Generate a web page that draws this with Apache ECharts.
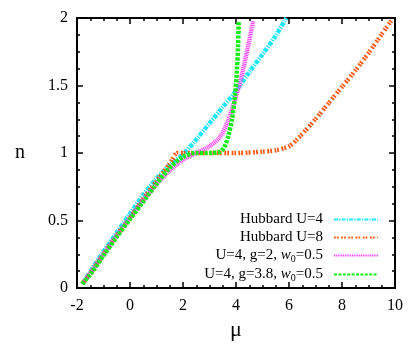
<!DOCTYPE html>
<html>
<head>
<meta charset="utf-8">
<script src="https://cdn.jsdelivr.net/npm/echarts@6/dist/echarts.min.js"></script>
<style>
  html, body { margin: 0; padding: 0; background: #fff; }
  #chart { width: 415px; height: 346px; }
</style>
</head>
<body>
<div id="chart"></div>
<script>
const seriesNames = ['Hubbard U=4', 'Hubbard U=8', 'U=4, g=2, w0=0.5', 'U=4, g=3.8, w0=0.5']

const muU4 = [-1.8, -1.5, -1, -0.5, 0, 0.5, 1, 1.5, 2, 2.5, 3, 3.5, 4, 4.5, 5, 5.5, 5.9]
const nU4 = [0.03, 0.12, 0.27, 0.41, 0.55, 0.69, 0.81, 0.91, 0.99, 1.1, 1.22, 1.34, 1.46, 1.6, 1.73, 1.87, 2.0]

const muU8 = [-1.8, -1.5, -1, -0.5, 0, 0.5, 1, 1.5, 1.8, 2, 3, 4, 5, 5.5, 6, 6.3, 7, 7.5, 8, 8.5, 9, 9.5, 9.9]
const nU8 = [0.03, 0.11, 0.25, 0.39, 0.52, 0.66, 0.79, 0.92, 1.0, 1.0, 1.0, 1.0, 1.01, 1.02, 1.05, 1.1, 1.25, 1.37, 1.49, 1.61, 1.74, 1.88, 1.99]

const muG2 = [-1.8, -1.5, -1, -0.5, 0, 0.5, 1, 1.5, 2, 2.5, 3, 3.4, 3.7, 4, 4.2, 4.4, 4.55, 4.65]
const nG2 = [0.03, 0.11, 0.25, 0.39, 0.52, 0.65, 0.77, 0.87, 0.95, 1.0, 1.05, 1.12, 1.24, 1.42, 1.56, 1.74, 1.88, 1.98]

const muG38 = [-1.8, -1.5, -1, -0.5, 0, 0.5, 1, 1.5, 2, 2.5, 3, 3.4, 3.55, 3.7, 3.85, 3.95, 4.03, 4.08, 4.1]
const nG38 = [0.03, 0.1, 0.24, 0.38, 0.51, 0.64, 0.77, 0.89, 0.97, 1.0, 1.0, 1.01, 1.04, 1.12, 1.25, 1.4, 1.6, 1.8, 1.98]

const xTicks = [-2, 10, 2]
const yTicks = [0, 2, 0.5]

const serif = 'Liberation Serif'

const pairs = (xs, ys) => xs.map((x, i) => [x, ys[i]])

const lineDefs = [
  { data: pairs(muU4, nU4), color: '#1ee8ff', dash: [4, 1.2, 1.2, 1.2] },
  { data: pairs(muU8, nU8), color: '#ff5a14', dash: [1.8, 1, 1.8, 2.6] },
  { data: pairs(muG2, nG2), color: '#ff33ff', dash: [1, 0.8] },
  { data: pairs(muG38, nG38), color: '#11ee11', dash: [3, 1.4] }
]

const tickLabel = {
  color: '#000',
  formatter: (v) => '{t|' + v + '}',
  rich: { t: { fontFamily: serif, fontSize: 16, color: '#000' } }
}

const axisCommon = {
  type: 'value',
  axisLine: { show: true, onZero: false, lineStyle: { color: '#000', width: 2 } },
  axisTick: { show: true, inside: true, length: 6, lineStyle: { color: '#000', width: 1.5 } },
  minorTick: { show: true, splitNumber: 4, length: 3, lineStyle: { color: '#000', width: 1.5 } },
  splitLine: { show: false }
}

const chart = echarts.init(document.getElementById('chart'))
chart.setOption({
  backgroundColor: '#fff',
  animation: false,
  textStyle: { fontFamily: serif },
  grid: { left: 77, right: 20, top: 18, bottom: 58 },
  xAxis: [
    {
      ...axisCommon,
      position: 'bottom',
      min: xTicks[0], max: xTicks[1], interval: xTicks[2],
      name: 'μ',
      nameLocation: 'middle',
      nameGap: 28,
      nameTextStyle: { fontFamily: serif, fontSize: 22, color: '#000' },
      axisLabel: { ...tickLabel, margin: 10 }
    },
    {
      ...axisCommon,
      position: 'top',
      min: xTicks[0], max: xTicks[1], interval: xTicks[2],
      axisLabel: { show: false }
    }
  ],
  yAxis: [
    {
      ...axisCommon,
      position: 'left',
      min: yTicks[0], max: yTicks[1], interval: yTicks[2],
      name: 'n',
      nameLocation: 'middle',
      nameRotate: 0,
      nameGap: 52,
      nameTextStyle: { fontFamily: serif, fontSize: 20, color: '#000' },
      axisLabel: { ...tickLabel, margin: 9 }
    },
    {
      ...axisCommon,
      position: 'right',
      min: yTicks[0], max: yTicks[1], interval: yTicks[2],
      axisLabel: { show: false }
    }
  ],
  legend: {
    orient: 'vertical',
    right: 31,
    top: 207,
    align: 'right',
    itemWidth: 44,
    itemHeight: 5,
    itemGap: 3,
    data: seriesNames,
    itemStyle: { opacity: 0 },
    formatter: (name) => {
      const m = name.match(/^(.*)w0(.*)$/)
      if (!m) return '{n|' + name + '}'
      return '{n|' + m[1] + '}{i|w}{s|0}{n|' + m[2] + '}'
    },
    textStyle: {
      fontFamily: serif,
      fontSize: 15,
      color: '#000',
      padding: [0, 6, 0, 0],
      rich: {
        n: { fontFamily: serif, fontSize: 15, color: '#000' },
        i: { fontFamily: serif, fontSize: 15, fontStyle: 'italic', color: '#000' },
        s: { fontFamily: serif, fontSize: 10, color: '#000', padding: [7, 0, 0, 0] }
      }
    }
  },
  series: lineDefs.map((d, i) => ({
    name: seriesNames[i],
    type: 'line',
    xAxisIndex: 0,
    yAxisIndex: 0,
    data: d.data,
    smooth: 0.3,
    symbol: 'none',
    color: d.color,
    lineStyle: { color: d.color, width: 4.5, type: d.dash }
  }))
})
</script>
</body>
</html>
